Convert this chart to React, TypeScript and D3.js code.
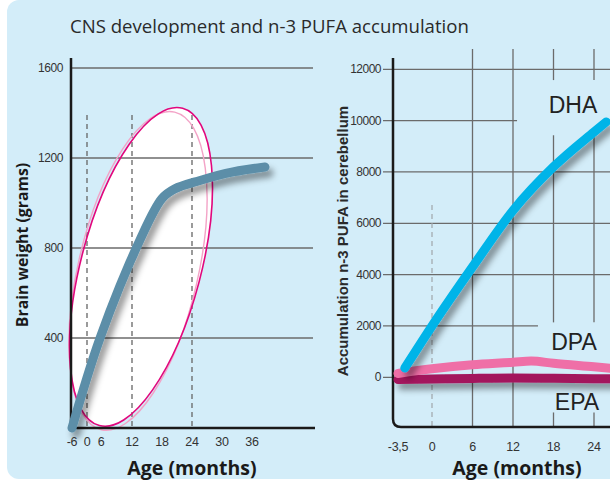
import React from "react";
import * as d3 from "d3";

// left panel: brain weight
const brainMonthTicks = [-6, 0, 6, 12, 18, 24, 30, 36];
const brainWeightTicks = [400, 800, 1200, 1600];
const dashedMonths = [0, 12, 24];
const brainMonths = [-6, 5.6, 13.6, 18, 20.5, 25.6, 32.2, 38.6];
const brainGrams = [0, 400, 836, 1020, 1062, 1100, 1138, 1160];
// growth-spurt ellipse centre (month, grams)
const spurtCentre = [13.8, 716];

// right panel: n-3 PUFA accumulation
const pufaMonthTicks = [-3.5, 0, 6, 12, 18, 24];
const pufaTicks = [0, 2000, 4000, 6000, 8000, 10000, 12000];
const gridMonths = [6, 12, 18, 24];
const dhaMonths = [-2.8, 0, 6, 12, 18, 24, 25.8];
const dhaValues = [360, 2000, 4300, 6500, 8200, 9560, 9950];
const dpaMonths = [-3.5, 0, 6, 12, 14.7, 18, 24, 27];
const dpaValues = [150, 330, 490, 585, 635, 545, 410, 340];
const epaMonths = [-3.5, 0, 6, 12, 18, 24, 27];
const epaValues = [-90, -70, -45, -30, -40, -55, -60];

const bg = "#d3edf9";
const tickFont = "'Liberation Sans', Arial, sans-serif";
const titleFont = "'Open Sans', 'Noto Sans', sans-serif";

export default function App() {
  // left scales (the illustration squeezes the first months)
  const xL = d3
    .scaleLinear()
    .domain(brainMonthTicks)
    .range([72, 87, 101, 132, 162, 192, 222, 252]);
  const yL = d3.scaleLinear().domain([0, 1600]).range([428, 68]);

  // right scales
  const xR = d3.scaleLinear().domain([-3.5, 0, 24]).range([398, 432, 594]);
  const yR = d3.scaleLinear().domain([0, 12000]).range([377.3, 69.3]);

  const brainLine = d3
    .line<number>()
    .x((d, i) => xL(brainMonths[i]))
    .y((d) => yL(d))
    .curve(d3.curveCatmullRom.alpha(0.5));

  const pufaLine = (months: number[]) =>
    d3
      .line<number>()
      .x((d, i) => xR(months[i]))
      .y((d) => yR(d))
      .curve(d3.curveMonotoneX);

  const cx = xL(spurtCentre[0]);
  const cy = yL(spurtCentre[1]);

  // gridline extents on the right (label areas leave gaps)
  const hEnd = (v: number) => (v === 10000 ? 12.6 : v === 2000 ? 15.7 : 30);
  const vSegments = (m: number) =>
    m >= 18
      ? [
          [12790, 11580],
          [9430, 2140],
          [-1370, -1950],
        ]
      : [[12790, -1950]];

  return (
    <svg
      width={610}
      height={483}
      style={{ position: "absolute", left: 0, top: 0 }}
    >
      <defs>
        <filter
          id="shadow"
          filterUnits="userSpaceOnUse"
          x={0}
          y={0}
          width={610}
          height={483}
        >
          <feDropShadow
            dx={4}
            dy={6}
            stdDeviation={3}
            floodColor="#000"
            floodOpacity={0.4}
          />
        </filter>
      </defs>
      <rect x={0} y={0} width={610} height={483} fill="#fff" />
      <rect x={7} y={0} width={630} height={479} rx={12} fill={bg} />

      <text
        x={70}
        y={33}
        fontFamily={titleFont}
        fontSize={18.6}
        fill="#2a2a2a"
      >
        CNS development and n-3 PUFA accumulation
      </text>

      {/* ---------- left panel ---------- */}
      <g>
        <ellipse
          cx={cx}
          cy={cy}
          rx={60}
          ry={164}
          transform={`rotate(14.7 ${cx} ${cy})`}
          fill="#fff"
        />
        {brainWeightTicks.map((t) => (
          <g key={t}>
            <line
              x1={71}
              x2={313}
              y1={yL(t)}
              y2={yL(t)}
              stroke="#6b6b6b"
              strokeWidth={1.3}
            />
            <text
              x={63}
              y={yL(t)}
              textAnchor="end"
              dominantBaseline="central"
              fontFamily={tickFont}
              fontSize={12}
              letterSpacing={-0.4}
              fill="#333"
            >
              {t}
            </text>
          </g>
        ))}
        {dashedMonths.map((m) => (
          <line
            key={m}
            x1={xL(m)}
            x2={xL(m)}
            y1={115}
            y2={428}
            stroke="#666"
            strokeWidth={1.3}
            strokeDasharray="5,4"
          />
        ))}
        <ellipse
          cx={cx - 3}
          cy={cy + 4}
          rx={60}
          ry={163}
          transform={`rotate(13 ${cx - 3} ${cy + 4})`}
          fill="none"
          stroke="#f3a3c7"
          strokeWidth={1.4}
        />
        <ellipse
          cx={cx}
          cy={cy}
          rx={60}
          ry={164}
          transform={`rotate(14.7 ${cx} ${cy})`}
          fill="none"
          stroke="#e2077d"
          strokeWidth={1.6}
        />
        <line x1={71} x2={71} y1={58} y2={429} stroke="#1a1a1a" strokeWidth={2.5} />
        <line x1={70} x2={315} y1={428} y2={428} stroke="#1a1a1a" strokeWidth={2.5} />
        <path
          d={brainLine(brainGrams) || ""}
          fill="none"
          stroke="#5b8ea8"
          strokeWidth={9}
          strokeLinecap="round"
          strokeLinejoin="round"
          filter="url(#shadow)"
        />
        {brainMonthTicks.map((m) => (
          <text
            key={m}
            x={xL(m)}
            y={442}
            textAnchor="middle"
            dominantBaseline="central"
            fontFamily={tickFont}
            fontSize={12.5}
            letterSpacing={-0.3}
            fill="#333"
          >
            {m}
          </text>
        ))}
        <text
          x={192}
          y={475}
          textAnchor="middle"
          fontFamily={titleFont}
          fontWeight={700}
          fontSize={19.5}
          fill="#1a1a1a"
        >
          Age (months)
        </text>
        <text
          transform="translate(28,245) rotate(-90)"
          textAnchor="middle"
          fontFamily={titleFont}
          fontWeight={700}
          fontSize={15.8}
          fill="#1a1a1a"
        >
          Brain weight (grams)
        </text>
      </g>

      {/* ---------- right panel ---------- */}
      <g>
        {pufaTicks.map((t) => (
          <g key={t}>
            <line
              x1={383}
              x2={xR(hEnd(t))}
              y1={yR(t)}
              y2={yR(t)}
              stroke="#6b6b6b"
              strokeWidth={1.3}
            />
            <text
              x={381}
              y={yR(t)}
              textAnchor="end"
              dominantBaseline="central"
              fontFamily={tickFont}
              fontSize={12}
              letterSpacing={-0.5}
              fill="#333"
            >
              {t}
            </text>
          </g>
        ))}
        {gridMonths.map((m) =>
          vSegments(m).map((s, i) => (
            <line
              key={`${m}-${i}`}
              x1={xR(m)}
              x2={xR(m)}
              y1={yR(s[0])}
              y2={yR(s[1])}
              stroke="#6b6b6b"
              strokeWidth={1.3}
            />
          ))
        )}
        <line
          x1={xR(0)}
          x2={xR(0)}
          y1={205}
          y2={427}
          stroke="#a0a6aa"
          strokeWidth={1.2}
          strokeDasharray="5,4"
        />
        <path
          d="M393,58 V419 Q393,427 401,427 H615"
          fill="none"
          stroke="#1a1a1a"
          strokeWidth={2.5}
        />
        <path
          d={pufaLine(epaMonths)(epaValues) || ""}
          fill="none"
          stroke="#a3175d"
          strokeWidth={9}
          strokeLinecap="round"
          filter="url(#shadow)"
        />
        <path
          d={pufaLine(dpaMonths)(dpaValues) || ""}
          fill="none"
          stroke="#ef6fa7"
          strokeWidth={9}
          strokeLinecap="round"
        />
        <path
          d={pufaLine(dhaMonths)(dhaValues) || ""}
          fill="none"
          stroke="#00b4e8"
          strokeWidth={9}
          strokeLinecap="round"
          strokeLinejoin="round"
          filter="url(#shadow)"
        />
        <text x={573} y={113} textAnchor="middle" fontFamily={tickFont} fontSize={23} fill="#222">
          DHA
        </text>
        <text x={574} y={350} textAnchor="middle" fontFamily={tickFont} fontSize={23} fill="#222">
          DPA
        </text>
        <text x={577} y={410} textAnchor="middle" fontFamily={tickFont} fontSize={23} fill="#222">
          EPA
        </text>
        {pufaMonthTicks.map((m) => (
          <text
            key={m}
            x={xR(m)}
            y={447}
            textAnchor="middle"
            dominantBaseline="central"
            fontFamily={tickFont}
            fontSize={12.5}
            letterSpacing={-0.3}
            fill="#333"
          >
            {String(m).replace(".", ",")}
          </text>
        ))}
        <text
          x={517}
          y={475}
          textAnchor="middle"
          fontFamily={titleFont}
          fontWeight={700}
          fontSize={19.5}
          fill="#1a1a1a"
        >
          Age (months)
        </text>
        <text
          transform="translate(348,241) rotate(-90)"
          textAnchor="middle"
          fontFamily={tickFont}
          fontWeight={700}
          fontSize={15}
          fill="#2a2a2a"
        >
          Accumulation n-3 PUFA in cerebellum
        </text>
      </g>
    </svg>
  );
}
